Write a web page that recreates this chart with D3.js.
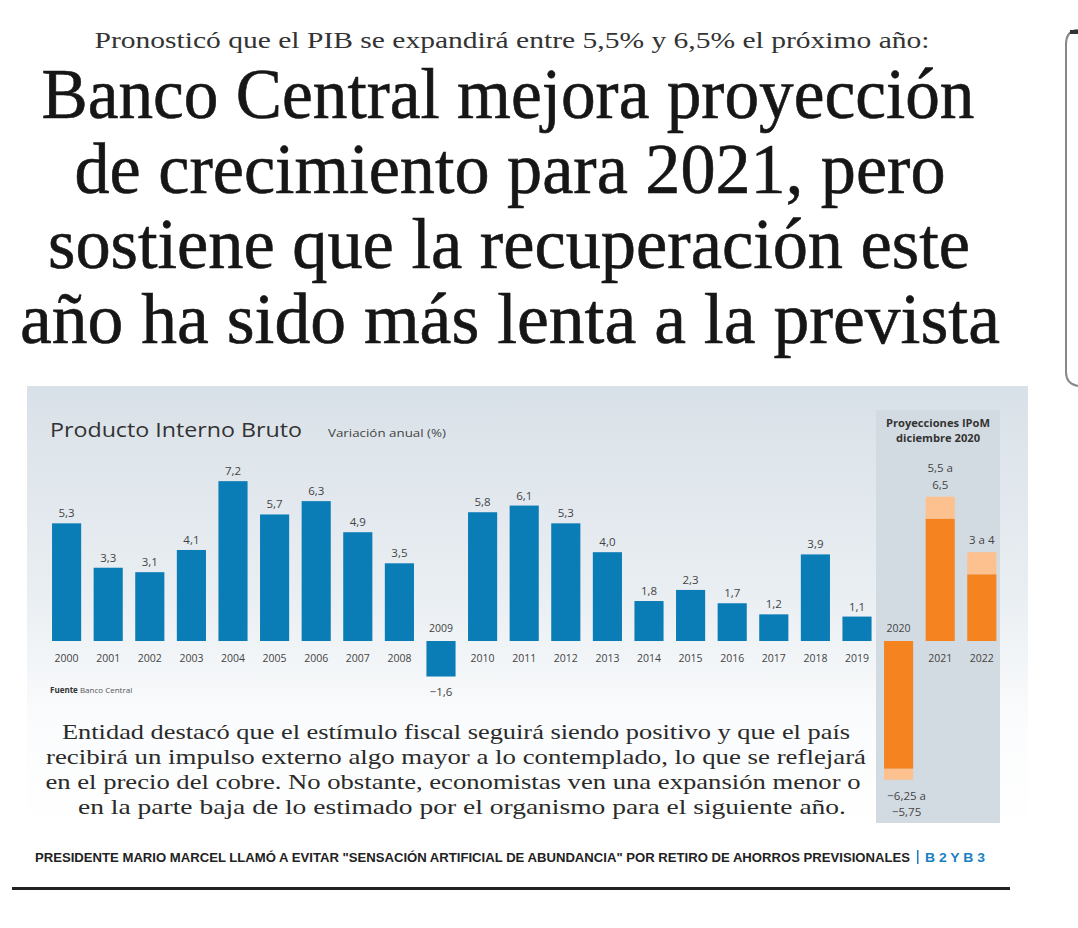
<!DOCTYPE html>
<html><head><meta charset="utf-8">
<script src="https://cdn.jsdelivr.net/npm/d3@7"></script>
<style>
html,body{margin:0;padding:0;background:#fff;}
svg{display:block;}
</style></head>
<body>
<svg id="c" width="1078" height="928"></svg>
<script>
// ---- DATA ----
const years = ["2000","2001","2002","2003","2004","2005","2006","2007","2008","2009","2010","2011","2012","2013","2014","2015","2016","2017","2018","2019"];
const gdp = [5.3,3.3,3.1,4.1,7.2,5.7,6.3,4.9,3.5,-1.6,5.8,6.1,5.3,4.0,1.8,2.3,1.7,1.2,3.9,1.1];
const projYears = ["2020","2021","2022"];
const projInner = [-5.75, 5.5, 3];   // dark orange extent
const projOuter = [-6.25, 6.5, 4];   // light orange extent (range end)
const projLabels = [["-6,25 a","-5,75"],["5,5 a","6,5"],["3 a 4"]];
const kicker = "Pronosticó que el PIB se expandirá entre 5,5% y 6,5% el próximo año:";
const headline = ["Banco Central mejora proyección","de crecimiento para 2021, pero","sostiene que la recuperación este","año ha sido más lenta a la prevista"];
const paragraph = ["Entidad destacó que el estímulo fiscal seguirá siendo positivo y que el país","recibirá un impulso externo algo mayor a lo contemplado, lo que se reflejará","en el precio del cobre. No obstante, economistas ven una expansión menor o","en la parte baja de lo estimado por el organismo para el siguiente año."];
const footer = "PRESIDENTE MARIO MARCEL LLAMÓ A EVITAR \"SENSACIÓN ARTIFICIAL DE ABUNDANCIA\" POR RETIRO DE AHORROS PREVISIONALES";

const svg = d3.select("#c");
const serif = "'Liberation Serif','DejaVu Serif',serif";
const sans = "'Open Sans','Noto Sans',sans-serif";
const loc = d3.formatLocale({decimal:",",thousands:".",grouping:[3],currency:["$",""]});
const fmt = loc.format(".1f");

// kicker & headline
svg.append("text").attr("x",512).attr("y",48).attr("text-anchor","middle")
  .attr("font-family",serif).attr("font-size",23).attr("fill","#333")
  .attr("textLength",835).attr("lengthAdjust","spacingAndGlyphs").text(kicker);
const hl = [{x:508,y:118,w:933},{x:510,y:193,w:871},{x:509,y:268,w:922},{x:510,y:343,w:980}];
headline.forEach((t,i)=>{
  svg.append("text").attr("x",hl[i].x).attr("y",hl[i].y).attr("text-anchor","middle")
    .attr("font-family",serif).attr("font-size",72).attr("fill","#161616")
    .attr("stroke","#161616").attr("stroke-width",0.6)
    .attr("textLength",hl[i].w).attr("lengthAdjust","spacingAndGlyphs").text(t);
});

// right side rounded box edge
svg.append("path").attr("d","M1078,30 L1076,30 Q1066,32 1066,44 L1066,372 Q1066,384 1078,386")
  .attr("fill","none").attr("stroke","#888").attr("stroke-width",2);
svg.append("rect").attr("x",1070).attr("y",30).attr("width",8).attr("height",4).attr("fill","#333");

// chart background
const defs = svg.append("defs");
const g1 = defs.append("linearGradient").attr("id","bg").attr("x1",0).attr("y1",0).attr("x2",0).attr("y2",1);
g1.append("stop").attr("offset","0").attr("stop-color","#d9e1e8");
g1.append("stop").attr("offset","0.45").attr("stop-color","#e9eef2");
g1.append("stop").attr("offset","0.75").attr("stop-color","#fbfcfd");
g1.append("stop").attr("offset","1").attr("stop-color","#ffffff");
svg.append("rect").attr("x",27).attr("y",386).attr("width",1001).attr("height",454).attr("fill","url(#bg)");

// projection panel
svg.append("rect").attr("x",876).attr("y",410).attr("width",124).attr("height",413).attr("fill","#d3dbe2");
svg.append("text").attr("x",938).attr("y",427).attr("text-anchor","middle").attr("font-family",sans)
  .attr("font-weight","bold").attr("font-size",10).attr("fill","#333").attr("textLength",104).attr("lengthAdjust","spacingAndGlyphs").text("Proyecciones IPoM");
svg.append("text").attr("x",938).attr("y",442).attr("text-anchor","middle").attr("font-family",sans)
  .attr("font-weight","bold").attr("font-size",10).attr("fill","#333").attr("textLength",84).attr("lengthAdjust","spacingAndGlyphs").text("diciembre 2020");

// chart title
svg.append("text").attr("x",50).attr("y",437).attr("font-family",sans).attr("font-size",20).attr("fill","#333")
  .attr("textLength",252).attr("lengthAdjust","spacingAndGlyphs").text("Producto Interno Bruto");
svg.append("text").attr("x",328).attr("y",437).attr("font-family",sans).attr("font-size",11).attr("fill","#444")
  .attr("textLength",118).attr("lengthAdjust","spacingAndGlyphs").text("Variación anual (%)");

// scales
const allYears = years.concat(projYears);
const x = d3.scaleBand().domain(allYears).range([45.8,1002.6]).paddingInner(0.3).paddingOuter(0.15);
const y = d3.scaleLinear().domain([-7,8]).range([641+7*22.2, 641-8*22.2]);

const bars = years.map((yr,i)=>({yr, v:gdp[i]}));
svg.append("g").selectAll("rect").data(bars).join("rect")
  .attr("x",d=>x(d.yr)).attr("width",x.bandwidth())
  .attr("y",d=>y(Math.max(0,d.v))).attr("height",d=>Math.abs(y(d.v)-y(0)))
  .attr("fill","#0a7cb6");

const lbl = svg.append("g").attr("font-family",sans).attr("fill","#444").attr("text-anchor","middle");
bars.forEach(d=>{
  const cx = x(d.yr)+x.bandwidth()/2;
  if(d.v>=0){
    lbl.append("text").attr("x",cx).attr("y",y(d.v)-6).attr("font-size",11.5).text(fmt(d.v));
    lbl.append("text").attr("x",cx).attr("y",y(0)+21).attr("font-size",10.5).text(d.yr);
  } else {
    lbl.append("text").attr("x",cx).attr("y",y(d.v)+19).attr("font-size",11.5).text(fmt(d.v).replace("-","−"));
    lbl.append("text").attr("x",cx).attr("y",y(0)-9).attr("font-size",10.5).text(d.yr);
  }
});

// projection bars
projYears.forEach((yr,i)=>{
  const bx = x(yr), bw = x.bandwidth();
  const a = projInner[i], b = projOuter[i];
  svg.append("rect").attr("x",bx).attr("width",bw)
    .attr("y", a>0 ? y(b) : y(a)).attr("height",Math.abs(y(b)-y(a))).attr("fill","#fcc18e");
  svg.append("rect").attr("x",bx).attr("width",bw)
    .attr("y",y(Math.max(0,a))).attr("height",Math.abs(y(a)-y(0))).attr("fill","#f5831f");
  const cx = bx+bw/2;
  if(a>0){
    lbl.append("text").attr("x",cx).attr("y",y(0)+21).attr("font-size",10.5).text(yr);
    const ls = projLabels[i];
    ls.forEach((t,j)=>{
      lbl.append("text").attr("x",cx).attr("y",y(b)-8-(ls.length-1-j)*17).attr("font-size",11.5).text(t);
    });
  } else {
    lbl.append("text").attr("x",cx).attr("y",y(0)-9).attr("font-size",10.5).text(yr);
    projLabels[i].forEach((t,j)=>{
      lbl.append("text").attr("x",cx+8).attr("y",y(b)+20+j*16).attr("font-size",11.5).text(t.replace(/-/g,"−"));
    });
  }
});

// source
const src = svg.append("text").attr("x",50).attr("y",693).attr("font-family",sans).attr("font-size",8).attr("fill","#333");
src.append("tspan").attr("font-weight","bold").text("Fuente ");
src.append("tspan").attr("fill","#555").text("Banco Central");

// paragraph
const pl = [{x:456,y:739,w:788},{x:456,y:764,w:820},{x:453,y:789,w:815},{x:462,y:814,w:768}];
paragraph.forEach((t,i)=>{
  svg.append("text").attr("x",pl[i].x).attr("y",pl[i].y).attr("text-anchor","middle")
    .attr("font-family",serif).attr("font-size",21).attr("fill","#2a2a2a")
    .attr("textLength",pl[i].w).attr("lengthAdjust","spacingAndGlyphs").text(t);
});

// footer
svg.append("text").attr("x",35).attr("y",862).attr("font-family","'Liberation Sans Narrow','Liberation Sans',sans-serif")
  .attr("font-weight","bold").attr("font-size",13).attr("fill","#222")
  .attr("textLength",875).attr("lengthAdjust","spacingAndGlyphs").text(footer);
svg.append("rect").attr("x",917).attr("y",850).attr("width",1.5).attr("height",14).attr("fill","#1a7fc1");
svg.append("text").attr("x",925).attr("y",862).attr("font-family","'Liberation Sans',sans-serif")
  .attr("font-weight","bold").attr("font-size",13).attr("fill","#1a7fc1")
  .attr("textLength",60).attr("lengthAdjust","spacingAndGlyphs").text("B 2 Y B 3");
svg.append("rect").attr("x",12).attr("y",887).attr("width",998).attr("height",3).attr("fill","#222");
</script>
</body></html>
